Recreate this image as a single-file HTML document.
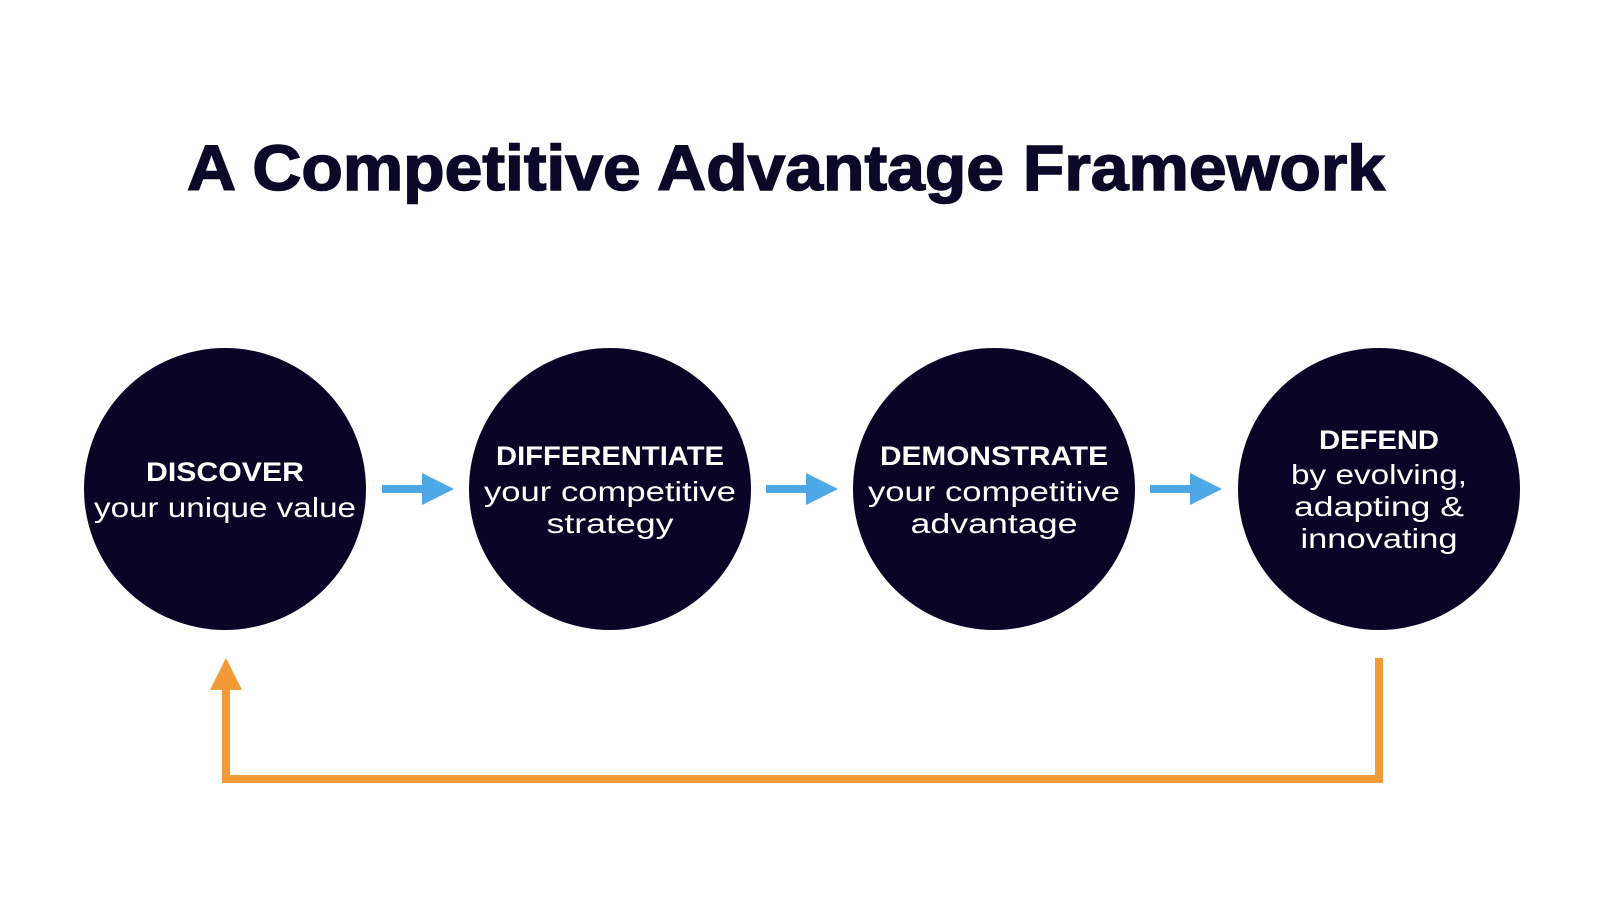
<!DOCTYPE html>
<html><head><meta charset="utf-8"><style>
html,body{margin:0;padding:0;background:#fff;}
svg{display:block;}
</style></head><body>
<svg width="1600" height="900" xmlns="http://www.w3.org/2000/svg" font-family="Liberation Sans, sans-serif">
<rect width="1600" height="900" fill="#fff"/>
<text x="786" y="190" text-anchor="middle" font-size="64" font-weight="bold" fill="#0b0828" stroke="#0b0828" stroke-width="1.5" textLength="1198" lengthAdjust="spacingAndGlyphs">A Competitive Advantage Framework</text>
<g fill="#0a0526">
<circle cx="225" cy="489" r="141"/>
<circle cx="610" cy="489" r="141"/>
<circle cx="994" cy="489" r="141"/>
<circle cx="1379" cy="489" r="141"/>
</g>
<g fill="#4ea8e6">
<rect x="382" y="485" width="42" height="8"/><polygon points="422,473 454,489 422,505"/>
<rect x="766" y="485" width="42" height="8"/><polygon points="806,473 838,489 806,505"/>
<rect x="1150" y="485" width="42" height="8"/><polygon points="1190,473 1222,489 1190,505"/>
</g>
<g fill="#f09b38">
<polygon points="226,658 210,690 242,690"/>
<rect x="222" y="688" width="8" height="95"/>
<rect x="222" y="775" width="1161" height="8"/>
<rect x="1375" y="658" width="8" height="125"/>
</g>
<g fill="#fff" text-anchor="middle">
<text x="225" y="481" font-size="27" font-weight="bold" textLength="158" lengthAdjust="spacingAndGlyphs">DISCOVER</text>
<text x="225" y="517" font-size="28" textLength="262" lengthAdjust="spacingAndGlyphs">your unique value</text>

<text x="610" y="465" font-size="27" font-weight="bold" textLength="228" lengthAdjust="spacingAndGlyphs">DIFFERENTIATE</text>
<text x="610" y="501" font-size="28" textLength="252" lengthAdjust="spacingAndGlyphs">your competitive</text>
<text x="610" y="533" font-size="28" textLength="127" lengthAdjust="spacingAndGlyphs">strategy</text>

<text x="994" y="465" font-size="27" font-weight="bold" textLength="228" lengthAdjust="spacingAndGlyphs">DEMONSTRATE</text>
<text x="994" y="501" font-size="28" textLength="252" lengthAdjust="spacingAndGlyphs">your competitive</text>
<text x="994" y="533" font-size="28" textLength="167" lengthAdjust="spacingAndGlyphs">advantage</text>

<text x="1379" y="449" font-size="27" font-weight="bold" textLength="120" lengthAdjust="spacingAndGlyphs">DEFEND</text>
<text x="1379" y="484" font-size="28" textLength="176" lengthAdjust="spacingAndGlyphs">by evolving,</text>
<text x="1379" y="516" font-size="28" textLength="170" lengthAdjust="spacingAndGlyphs">adapting &amp;</text>
<text x="1379" y="548" font-size="28" textLength="157" lengthAdjust="spacingAndGlyphs">innovating</text>
</g>
</svg>
</body></html>
